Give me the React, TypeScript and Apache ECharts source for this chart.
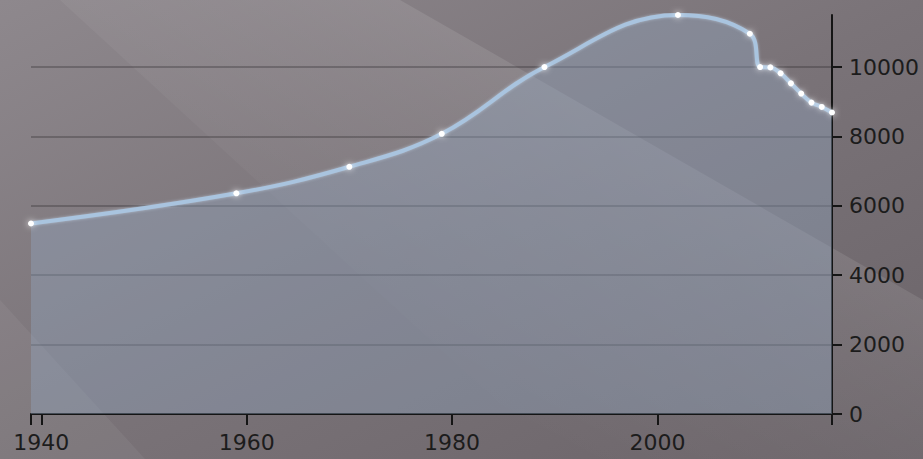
import React, { useEffect, useRef } from "react";
import * as echarts from "echarts";

const years = [1939, 1959, 1970, 1979, 1989, 2002, 2009, 2010, 2011, 2012, 2013, 2014, 2015, 2016, 2017];
const population = [5490, 6360, 7125, 8075, 10000, 11500, 10960, 10000, 9990, 9820, 9530, 9235, 8975, 8850, 8690];
const xLabelValues = [1940, 1960, 1980, 2000];
const xTickValues = [1939, 1940, 1960, 1980, 2000, 2017];

export default function App() {
  const ref = useRef<HTMLDivElement>(null);
  useEffect(() => {
    document.body.style.margin = "0";
    const chart = echarts.init(ref.current!, null, { renderer: "svg" });
    chart.setOption({
      animation: false,
      backgroundColor: {
        type: "linear",
        x: 0,
        y: 0,
        x2: 1,
        y2: 1,
        colorStops: [
          { offset: 0, color: "#8e888d" },
          { offset: 0.5, color: "#7a7378" },
          { offset: 1, color: "#6a6368" },
        ],
      },
      graphic: [
        {
          type: "polygon",
          z: -10,
          silent: true,
          shape: { points: [[60, 0], [400, 0], [923, 300], [923, 459], [560, 459]] },
          style: {
            fill: {
              type: "linear",
              x: 0,
              y: 1,
              x2: 1,
              y2: 0,
              colorStops: [
                { offset: 0, color: "rgba(255,255,255,0)" },
                { offset: 0.3, color: "rgba(255,255,255,0)" },
                { offset: 0.6, color: "rgba(255,255,255,0.07)" },
                { offset: 0.8, color: "rgba(255,255,255,0.13)" },
                { offset: 1, color: "rgba(255,255,255,0.13)" },
              ],
            },
          },
        },
        {
          type: "polygon",
          z: -10,
          silent: true,
          shape: { points: [[0, 300], [0, 459], [145, 459]] },
          style: { fill: "rgba(255,255,255,0.05)" },
        },
      ],
      grid: { left: 31, right: 91, top: 15, bottom: 45, outerBoundsMode: "none", containLabel: false },
      xAxis: {
        type: "value",
        min: 1939,
        max: 2017,
        axisLine: { show: true, lineStyle: { color: "#151515", width: 2 } },
        axisTick: {
          show: true,
          length: 11,
          customValues: xTickValues,
          lineStyle: { color: "#151515", width: 2 },
        },
        axisLabel: {
          customValues: xLabelValues,
          margin: 17,
          color: "#1c1c1c",
          fontFamily: "DejaVu Sans",
          fontSize: 22,
          formatter: (v: number) => String(v),
        },
        splitLine: { show: false },
      },
      yAxis: {
        type: "value",
        position: "right",
        min: 0,
        max: 11500,
        interval: 2000,
        axisLine: { show: true, lineStyle: { color: "#151515", width: 2 } },
        axisTick: { show: true, length: 10, lineStyle: { color: "#151515", width: 2 } },
        axisLabel: {
          showMaxLabel: false,
          margin: 17,
          color: "#1c1c1c",
          fontFamily: "DejaVu Sans",
          fontSize: 22,
          formatter: (v: number) => String(v),
        },
        splitLine: {
          show: true,
          showMinLine: false,
          showMaxLine: false,
          lineStyle: { color: "rgba(40,35,40,0.3)", width: 2 },
        },
      },
      series: [
        {
          type: "line",
          data: years.map((y, i) => [y, population[i]]),
          smooth: 0.4,
          symbol: "circle",
          symbolSize: 6,
          itemStyle: { color: "#ffffff", shadowBlur: 6, shadowColor: "rgba(255,255,255,0.9)" },
          lineStyle: { color: "#a9c4df", width: 4, shadowBlur: 3, shadowColor: "rgba(200,220,240,0.6)" },
          areaStyle: { color: "rgba(148,170,198,0.52)" },
        },
      ],
    });
    return () => chart.dispose();
  }, []);
  return <div ref={ref} style={{ width: 923, height: 459 }} />;
}
